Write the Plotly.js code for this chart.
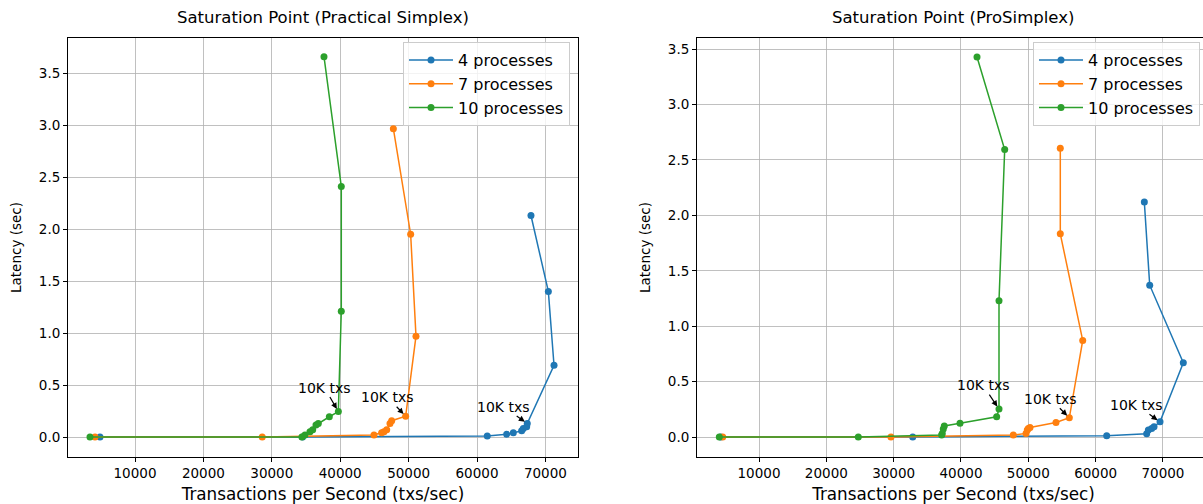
<!DOCTYPE html>
<html>
<head>
<meta charset="utf-8">
<script src="https://cdn.plot.ly/plotly-3.0.1.min.js"></script>
<style>
html,body{margin:0;padding:0;overflow:hidden;background:#fff;}
#chart{width:1215px;height:504px;}
</style>
</head>
<body>
<div id="chart"></div>
<script>
// ---- Data: Practical Simplex (left) ----
const ps4_x = [4880, 34500, 61500, 64340, 65310, 66530, 66770, 67260, 67350, 71260, 70430, 67890];
const ps4_y = [0.0, 0.0, 0.01, 0.026, 0.04, 0.06, 0.083, 0.10, 0.13, 0.69, 1.40, 2.13];
const ps7_x = [4150, 28600, 44940, 46060, 46400, 46800, 47280, 47530, 49570, 51080, 50300, 47770];
const ps7_y = [0.0, 0.0, 0.02, 0.04, 0.05, 0.07, 0.13, 0.157, 0.20, 0.97, 1.95, 2.965];
const ps10_x = [3420, 34400, 34850, 35580, 35980, 36460, 36800, 38410, 39730, 40160, 40160, 37630];
const ps10_y = [0.0, 0.0, 0.02, 0.05, 0.07, 0.115, 0.13, 0.195, 0.245, 1.21, 2.41, 3.657];

// ---- Data: ProSimplex (right) ----
const pro4_x = [4300, 32830, 61640, 67580, 67830, 68320, 68670, 69560, 73020, 68030, 67230];
const pro4_y = [0.0, 0.0, 0.012, 0.03, 0.063, 0.078, 0.093, 0.137, 0.67, 1.37, 2.12];
const pro7_x = [4610, 29600, 47770, 49660, 49850, 50000, 50250, 54110, 56090, 58080, 54750, 54750];
const pro7_y = [0.0, 0.0, 0.018, 0.033, 0.063, 0.078, 0.087, 0.132, 0.174, 0.872, 1.833, 2.606];
const pro10_x = [4104, 24750, 37130, 37220, 37370, 37520, 39850, 45300, 45645, 45645, 46490, 42380];
const pro10_y = [0.0, 0.0, 0.018, 0.033, 0.072, 0.10, 0.125, 0.183, 0.252, 1.229, 2.594, 3.429];

const seriesNames = ["4 processes", "7 processes", "10 processes"];
const titles = ["Saturation Point (Practical Simplex)", "Saturation Point (ProSimplex)"];
const xLabel = "Transactions per Second (txs/sec)";
const yLabel = "Latency (sec)";
const noteText = "10K txs";
// annotated points: index into each series
const psNoteIdx = [8, 8, 8];
const proNoteIdx = [7, 8, 8];

const colors = ["#1f77b4", "#ff7f0e", "#2ca02c"];
const W = 1215, H = 504;

function mk(x, y, i, xa, ya, leg) {
  return {
    x: x, y: y, type: "scatter", mode: "lines+markers",
    name: seriesNames[i], xaxis: xa, yaxis: ya, legend: leg,
    line: {color: colors[i], width: 1.5},
    marker: {color: colors[i], size: 7}
  };
}

const traces = [
  mk(ps4_x, ps4_y, 0, "x", "y", "legend"),
  mk(ps7_x, ps7_y, 1, "x", "y", "legend"),
  mk(ps10_x, ps10_y, 2, "x", "y", "legend"),
  mk(pro4_x, pro4_y, 0, "x2", "y2", "legend2"),
  mk(pro7_x, pro7_y, 1, "x2", "y2", "legend2"),
  mk(pro10_x, pro10_y, 2, "x2", "y2", "legend2")
];

const font = "DejaVu Sans, sans-serif";

function xax(domain, range) {
  return {
    domain: domain, range: range, tickmode: "linear", tick0: 0, dtick: 10000,
    tickformat: "d", showgrid: true, gridcolor: "#b0b0b0", gridwidth: 0.8,
    zeroline: false, showline: true, linecolor: "#000", linewidth: 1, mirror: true,
    ticks: "outside", ticklen: 4, tickcolor: "#000",
    tickfont: {family: font, size: 13.5, color: "#000"},
    title: {text: xLabel, font: {family: font, size: 16.8, color: "#000"}, standoff: 11}
  };
}
function yax(range, anchor) {
  return {
    domain: [47 / H, 1 - 38 / H], range: range, anchor: anchor,
    tickmode: "linear", tick0: 0, dtick: 0.5, tickformat: ".1f",
    showgrid: true, gridcolor: "#b0b0b0", gridwidth: 0.8,
    zeroline: false, showline: true, linecolor: "#000", linewidth: 1, mirror: true,
    ticks: "outside", ticklen: 4, tickcolor: "#000",
    tickfont: {family: font, size: 13.5, color: "#000"},
    title: {text: yLabel, font: {family: font, size: 13.5, color: "#000"}, standoff: 14}
  };
}

const xa1 = xax([68 / W, 578 / W], [205, 74766]);
xa1.anchor = "y";
const xa2 = xax([697 / W, 1210 / W], [791, 76984]);
xa2.anchor = "y2";
const ya1 = yax([-0.192, 3.837], "x");
const ya2 = yax([-0.18, 3.60], "x2");

const noteOffsetsPS = [[-24, -17], [-18, -19], [-14, -24]];
const noteOffsetsPro = [[-24, -17], [-19, -19], [-16, -24]];
const psX = [ps4_x, ps7_x, ps10_x], psY = [ps4_y, ps7_y, ps10_y];
const proX = [pro4_x, pro7_x, pro10_x], proY = [pro4_y, pro7_y, pro10_y];

const annotations = [];
for (let i = 0; i < 3; i++) {
  annotations.push({
    x: psX[i][psNoteIdx[i]], y: psY[i][psNoteIdx[i]], xref: "x", yref: "y",
    text: noteText, showarrow: true, ax: noteOffsetsPS[i][0], ay: noteOffsetsPS[i][1],
    arrowhead: 2, arrowsize: 1, arrowwidth: 1.2, arrowcolor: "#000", standoff: 3,
    font: {family: font, size: 14, color: "#000"}
  });
  annotations.push({
    x: proX[i][proNoteIdx[i]], y: proY[i][proNoteIdx[i]], xref: "x2", yref: "y2",
    text: noteText, showarrow: true, ax: noteOffsetsPro[i][0], ay: noteOffsetsPro[i][1],
    arrowhead: 2, arrowsize: 1, arrowwidth: 1.2, arrowcolor: "#000", standoff: 3,
    font: {family: font, size: 14, color: "#000"}
  });
}
annotations.push({
  text: titles[0], xref: "paper", yref: "paper", x: 323 / W, y: 1 - 18 / H,
  showarrow: false, xanchor: "center", yanchor: "middle",
  font: {family: font, size: 16.5, color: "#000"}
});
annotations.push({
  text: titles[1], xref: "paper", yref: "paper", x: 953 / W, y: 1 - 18 / H,
  showarrow: false, xanchor: "center", yanchor: "middle",
  font: {family: font, size: 16.5, color: "#000"}
});

function leg(xr) {
  return {
    x: xr, y: 1 - 42 / H, xanchor: "right", yanchor: "top",
    bgcolor: "rgba(255,255,255,0.8)", bordercolor: "#cccccc", borderwidth: 1,
    itemwidth: 44,
    font: {family: font, size: 16, color: "#000"}
  };
}

const layout = {
  width: W, height: H,
  margin: {l: 0, r: 0, t: 0, b: 0},
  paper_bgcolor: "#fff", plot_bgcolor: "#fff",
  font: {family: font},
  xaxis: xa1, yaxis: ya1, xaxis2: xa2, yaxis2: ya2,
  legend: leg(570 / W), legend2: leg(1200 / W),
  annotations: annotations
};

Plotly.newPlot("chart", traces, layout, {displayModeBar: false, staticPlot: true});
</script>
</body>
</html>
